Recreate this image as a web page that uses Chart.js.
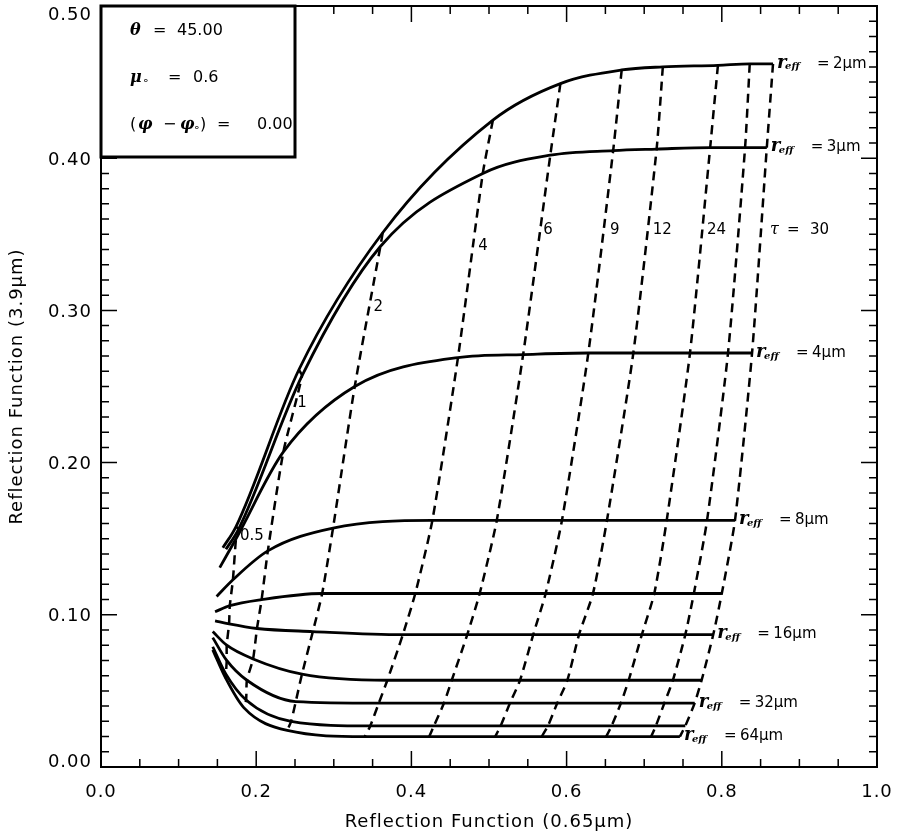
<!DOCTYPE html>
<html>
<head>
<meta charset="utf-8">
<script src="https://cdn.jsdelivr.net/npm/chart.js@4.4.1/dist/chart.umd.min.js"></script>
<style>
body{margin:0;background:#fff;}
#wrap{width:902px;height:836px;}
</style>
</head>
<body>
<div id="wrap"><canvas id="chart" width="902" height="836"></canvas></div>
<script>

// DATA

// optical thickness at each point along a curve (first point = start of curve)
const tauLabels = ['', '0.5', '1', '2', '4', '6', '9', '12', '24', '', '30'];

// effective radius of each solid curve (blank = curve drawn without label)
const reffLabels = ['2', '3', '4', '8', '', '16', '', '32', '', '64'];

// reflection function at 0.65 um, one row per r_eff curve
const r065 = [
[0.157,0.174,0.255,0.363,0.505,0.592,0.671,0.724,0.795,0.836,0.866],
[0.161,0.177,0.259,0.360,0.492,0.579,0.660,0.716,0.785,0.830,0.858],
[0.153,0.174,0.235,0.327,0.460,0.544,0.628,0.686,0.759,0.808,0.839],
[0.149,0.170,0.215,0.299,0.427,0.510,0.594,0.652,0.729,0.781,0.817],
[0.147,0.166,0.207,0.285,0.405,0.488,0.573,0.634,0.713,0.764,0.800],
[0.147,0.165,0.201,0.273,0.389,0.472,0.557,0.616,0.697,0.753,0.789],
[0.144,0.162,0.196,0.259,0.369,0.452,0.540,0.601,0.680,0.737,0.774],
[0.144,0.162,0.188,0.251,0.358,0.442,0.527,0.588,0.670,0.726,0.765],
[0.144,0.161,0.187,0.245,0.347,0.429,0.515,0.576,0.658,0.715,0.753],
[0.144,0.161,0.184,0.240,0.340,0.423,0.508,0.568,0.651,0.709,0.746]
];

// reflection function at 3.9 um, same layout
const r39 = [
[0.144,0.158,0.261,0.351,0.425,0.449,0.458,0.460,0.461,0.462,0.462],
[0.143,0.156,0.257,0.342,0.390,0.402,0.405,0.406,0.407,0.407,0.407],
[0.131,0.150,0.207,0.250,0.269,0.271,0.272,0.272,0.272,0.272,0.272],
[0.112,0.123,0.142,0.157,0.162,0.162,0.162,0.162,0.162,0.162,0.162],
[0.102,0.106,0.110,0.114,0.114,0.114,0.114,0.114,0.114,0.114,0.114],
[0.096,0.094,0.091,0.089,0.087,0.087,0.087,0.087,0.087,0.087,0.087],
[0.089,0.080,0.071,0.061,0.057,0.057,0.057,0.057,0.057,0.057,0.057],
[0.085,0.070,0.057,0.043,0.042,0.042,0.042,0.042,0.042,0.042,0.042],
[0.079,0.061,0.044,0.030,0.027,0.027,0.027,0.027,0.027,0.027,0.027],
[0.077,0.058,0.039,0.024,0.020,0.020,0.020,0.020,0.020,0.020,0.020]
];

const xTicks = [0, 0.2, 0.4, 0.6, 0.8, 1.0];
const yTicks = [0, 0.1, 0.2, 0.3, 0.4, 0.5];

// FONTS

const SANS = '"DejaVu Sans", sans-serif';
const SERIF = '"DejaVu Serif", serif';

// DATASETS

let datasets = [];

// solid lines, constant r_eff
for(let i = 0; i < r065.length; i++){
datasets.push({
data: r065[i].map((x, k) => ({x: x, y: r39[i][k]})),
borderColor: '#000',
borderWidth: 2.8,
cubicInterpolationMode: 'monotone',
pointRadius: 0,
fill: false
});
}

// dashed lines, constant tau
for(let k = 1; k < tauLabels.length; k++){
datasets.push({
data: r065.map((row, i) => ({x: row[k], y: r39[i][k]})),
borderColor: '#000',
borderWidth: 2.5,
borderDash: [9, 6],
tension: 0.2,
pointRadius: 0,
fill: false
});
}

// TEXT HELPER

function drawParts(ctx, x, y, parts){
ctx.save();
ctx.fillStyle = '#000';
ctx.textBaseline = 'middle';
ctx.textAlign = 'left';
ctx.letterSpacing = '0px';
let cursor = x;
for(let p of parts){
ctx.font = p.font;
let px = (p.x !== undefined) ? x + p.x : cursor;
ctx.fillText(p.t, px, y + (p.dy || 0));
cursor = px + ctx.measureText(p.t).width;
}
ctx.restore();
}

// OVERLAY PLUGIN (frame, inward ticks, labels)

const overlay = {
id: 'overlay',
beforeDraw(chart){
chart.ctx.letterSpacing = '1px';
},
afterDraw(chart){
const ctx = chart.ctx;
const a = chart.chartArea;
const xs = chart.scales.x;
const ys = chart.scales.y;

ctx.save();
ctx.letterSpacing = '0px';
ctx.strokeStyle = '#000';

// frame
ctx.lineWidth = 2;
ctx.strokeRect(a.left, a.top, a.right - a.left, a.bottom - a.top);

// ticks on all four sides
ctx.lineWidth = 1.5;
ctx.beginPath();
for(let i = 0; i <= 50; i++){
let py = ys.getPixelForValue(i / 100);
let len = (i % 10 === 0) ? 16 : 8;
ctx.moveTo(a.left, py); ctx.lineTo(a.left + len, py);
ctx.moveTo(a.right, py); ctx.lineTo(a.right - len, py);
}
for(let i = 0; i <= 20; i++){
let px = xs.getPixelForValue(i * 0.05);
let len = (i % 4 === 0) ? 16 : 8;
ctx.moveTo(px, a.bottom); ctx.lineTo(px, a.bottom - len);
ctx.moveTo(px, a.top); ctx.lineTo(px, a.top + len);
}
ctx.stroke();

// y tick labels (end labels pulled inside like the original)
ctx.fillStyle = '#000';
ctx.font = '18px ' + SANS;
ctx.letterSpacing = '1px';
ctx.textAlign = 'right';
ctx.textBaseline = 'middle';
for(let v of yTicks){
let py = ys.getPixelForValue(v) + 2;
if(v === 0.5){ py += 7; }
if(v === 0){ py -= 7; }
ctx.fillText(v.toFixed(2), 92, py);
}
ctx.letterSpacing = '0px';

// info box
ctx.fillStyle = '#fff';
ctx.fillRect(a.left, a.top, 194, 151);
ctx.lineWidth = 3;
ctx.strokeRect(a.left, a.top, 194, 151);
ctx.restore();

const bx = a.left + 29;
const by = a.top;
const f16 = '16px ' + SANS;
const g16 = 'italic bold 16px ' + SERIF;
const sub = '11px ' + SANS;
drawParts(ctx, bx, by + 25, [
{t: 'θ', font: g16, x: 0},
{t: '=', font: f16, x: 23},
{t: '45.00', font: f16, x: 47}
]);
drawParts(ctx, bx, by + 72, [
{t: 'μ', font: g16, x: 0},
{t: '∘', font: sub, x: 12, dy: 3},
{t: '=', font: f16, x: 38},
{t: '0.6', font: f16, x: 63}
]);
drawParts(ctx, bx, by + 119, [
{t: '(', font: f16, x: 0},
{t: 'φ', font: g16, x: 8},
{t: '−', font: f16, x: 33},
{t: 'φ', font: g16, x: 50},
{t: '∘', font: sub, x: 63, dy: 3},
{t: ')', font: f16, x: 70},
{t: '=', font: f16, x: 87},
{t: '0.00', font: f16, x: 127}
]);

// r_eff labels at the end of each labelled curve
const rFont = 'italic bold 18px ' + SERIF;
const effFont = 'italic bold 10px ' + SERIF;
const lFont = '15px ' + SANS;
const last = tauLabels.length - 1;
for(let i = 0; i < reffLabels.length; i++){
if(reffLabels[i] === ''){ continue; }
let px = xs.getPixelForValue(r065[i][last]) + 4;
let py = ys.getPixelForValue(r39[i][last]);
drawParts(ctx, px, py, [
{t: 'r', font: rFont, x: 0, dy: -1},
{t: 'eff', font: effFont, x: 8, dy: 3},
{t: '=', font: lFont, x: 40},
{t: reffLabels[i] + 'μm', font: lFont, x: 56}
]);
}

// tau labels, placed in data units beside their dashed line
const tauAt = [null, [0.179, 0.152], [0.253, 0.239], [0.351, 0.302], [0.486, 0.342],
[0.570, 0.353], [0.656, 0.353], [0.711, 0.353], [0.781, 0.353], null, [0.862, 0.353]];
const tFont = '15px ' + SANS;
for(let k = 1; k < tauLabels.length; k++){
if(!tauAt[k] || tauLabels[k] === ''){ continue; }
let px = xs.getPixelForValue(tauAt[k][0]);
let py = ys.getPixelForValue(tauAt[k][1]);
if(k === last){
drawParts(ctx, px, py, [
{t: 'τ', font: 'italic 16px ' + SERIF, x: 0},
{t: '=', font: tFont, x: 17},
{t: tauLabels[k], font: tFont, x: 40}
]);
}
else{
drawParts(ctx, px, py, [{t: tauLabels[k], font: tFont, x: 0}]);
}
}
}
};

// CHART

new Chart(
document.getElementById('chart'),
{
type: 'line',
data: {datasets: datasets},
plugins: [overlay],
options: {
responsive: false,
animation: false,
events: [],
layout: {padding: {top: 6, right: 25, left: 0, bottom: 0}},
plugins: {legend: {display: false}, tooltip: {enabled: false}},
scales: {
x: {
type: 'linear', min: 0, max: 1,
afterFit(s){ s.height = 69; s.paddingLeft = 0; s.paddingRight = 0; },
afterBuildTicks(s){ s.ticks = xTicks.map(v => ({value: v})); },
grid: {display: false, drawTicks: false},
border: {display: false},
ticks: {padding: 15, color: '#000', font: {family: SANS, size: 18}, maxRotation: 0, autoSkip: false,
callback: v => v.toFixed(1)},
title: {display: true, text: 'Reflection Function (0.65µm)', color: '#000',
font: {family: SANS, size: 18}, padding: {top: 0, bottom: 3}}
},
y: {
type: 'linear', min: 0, max: 0.5,
afterFit(s){ s.width = 101; s.paddingTop = 0; s.paddingBottom = 0; },
afterBuildTicks(s){ s.ticks = yTicks.map(v => ({value: v})); },
grid: {display: false, drawTicks: false},
border: {display: false},
ticks: {display: false},
title: {display: true, text: 'Reflection Function (3.9µm)', color: '#000',
font: {family: SANS, size: 18}, padding: {top: 7, bottom: 0}}
}
}
}
}
);

</script>
</body>
</html>
